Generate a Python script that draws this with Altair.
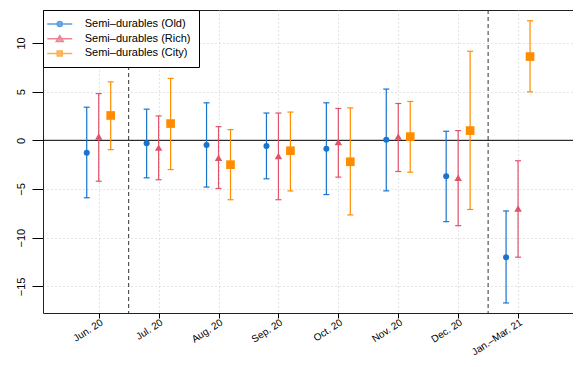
import json
import altair as alt
import pandas as pd

months = ["Jun. 20", "Jul. 20", "Aug. 20", "Sep. 20", "Oct. 20", "Nov. 20", "Dec. 20", "Jan.–Mar. 21"]
series_names = ["Semi–durables (Old)", "Semi–durables (Rich)", "Semi–durables (City)"]
series_colors = ["#1874CD", "#DF536B", "#FF8C00"]
series_offsets = [-0.2, 0.0, 0.2]

old_est = [-1.27, -0.30, -0.48, -0.58, -0.86, 0.07, -3.68, -12.0]
old_lo = [-5.9, -3.85, -4.8, -3.95, -5.57, -5.19, -8.35, -16.7]
old_hi = [3.4, 3.2, 3.85, 2.8, 3.85, 5.26, 0.93, -7.25]

rich_est = [0.40, -0.75, -1.8, -1.6, -0.17, 0.38, -3.85, -7.0]
rich_lo = [-4.2, -4.05, -4.95, -6.1, -3.78, -3.2, -8.76, -12.0]
rich_hi = [4.8, 2.5, 1.4, 2.8, 3.27, 3.78, 1.0, -2.1]

city_est = [2.55, 1.72, -2.5, -1.07, -2.2, 0.38, 1.0, 8.6]
city_lo = [-0.96, -3.0, -6.1, -5.2, -7.66, -3.27, -7.1, 4.98]
city_hi = [6.0, 6.35, 1.1, 2.9, 3.33, 3.99, 9.14, 12.27]

separators = [0.5, 6.5]
y_ticks = [-15, -10, -5, 0, 5, 10]

ests = [old_est, rich_est, city_est]
los = [old_lo, rich_lo, city_lo]
his = [old_hi, rich_hi, city_hi]

rows = []
for s, name in enumerate(series_names):
    for i in range(len(months)):
        rows.append(dict(i=i, off=series_offsets[s], series=name,
                         est=ests[s][i], lo=los[s][i], hi=his[s][i]))
df = pd.DataFrame(rows)

FONT = "Liberation Sans"
xscale = alt.Scale(domain=[-0.93, 7.917], nice=False, zero=False)
yscale = alt.Scale(domain=[-17.73, 13.38], nice=False, zero=False)
color_scale = alt.Scale(domain=series_names, range=series_colors)

xaxis = alt.Axis(values=list(range(len(months))),
                 labelExpr=json.dumps(months) + "[round(datum.value)]",
                 labelAngle=-33, labelAlign="right", labelBaseline="top",
                 labelPadding=-1, labelFontSize=10, tickSize=5, domain=False, grid=True,
                 gridDash=[1, 3], gridColor="#c8c8c8", title=None)
yaxis = alt.Axis(values=y_ticks, labelAngle=-90, labelAlign="center",
                 labelBaseline="alphabetic", labelPadding=8, tickSize=11,
                 domain=False, grid=True, gridDash=[1, 3], gridColor="#c8c8c8",
                 title=None)

base = alt.Chart(df).transform_calculate(
    xpos="datum.i + datum.off",
    xl="datum.i + datum.off - 0.05",
    xr="datum.i + datum.off + 0.05",
)

X = alt.X("xpos:Q", scale=xscale, axis=xaxis)
col = alt.Color("series:N", scale=color_scale, legend=None)

bars = base.mark_rule(strokeWidth=1.2).encode(
    x=X, y=alt.Y("lo:Q", scale=yscale, axis=yaxis), y2="hi:Q", color=col)
cap_lo = base.mark_rule(strokeWidth=1.2).encode(
    x=alt.X("xl:Q", scale=xscale, axis=xaxis), x2="xr:Q",
    y=alt.Y("lo:Q", scale=yscale, axis=yaxis), color=col)
cap_hi = base.mark_rule(strokeWidth=1.2).encode(
    x=alt.X("xl:Q", scale=xscale, axis=xaxis), x2="xr:Q",
    y=alt.Y("hi:Q", scale=yscale, axis=yaxis), color=col)
points = base.mark_point(filled=True, opacity=1).encode(
    x=X, y=alt.Y("est:Q", scale=yscale, axis=yaxis), color=col,
    shape=alt.Shape("series:N", scale=alt.Scale(domain=series_names,
                    range=["circle", "triangle-up", "square"]), legend=None),
    size=alt.Size("series:N", scale=alt.Scale(domain=series_names,
                  range=[36, 75, 49]), legend=None),
)

zero = alt.Chart(pd.DataFrame({"v": [0]})).mark_rule(color="black", strokeWidth=1).encode(
    y=alt.Y("v:Q", scale=yscale, axis=yaxis))
seps = alt.Chart(pd.DataFrame({"s": separators})).mark_rule(
    color="#333333", strokeDash=[4, 3], strokeWidth=1).encode(
    x=alt.X("s:Q", scale=xscale, axis=xaxis))

legend_paths = [
    "M-2.5,0L2.5,0M-0.5,0A0.5,0.5,0,1,0,0.5,0A0.5,0.5,0,1,0,-0.5,0Z",
    "M-2.5,0L2.5,0M0,-0.6L0.7,0.55L-0.7,0.55Z",
    "M-2.5,0L2.5,0M-0.5,-0.5L0.5,-0.5L0.5,0.5L-0.5,0.5Z",
]
pad = "\u2007" * 3
leg = alt.Legend(title=None, orient="none", legendX=0, legendY=0,
                 direction="vertical", padding=8, rowPadding=2.7,
                 symbolOffset=2.75, labelOffset=19, strokeColor="black",
                 fillColor="white", labelFont=FONT, labelFontSize=11,
                 labelColor="black", symbolSize=100, symbolStrokeWidth=1.5,
                 labelLimit=0, labelExpr="datum.label + '" + pad + "'")
legend_layer = base.mark_point(size=100, clip=True, strokeWidth=1.5).encode(
    x=X, y=alt.datum(1000),
    shape=alt.Shape("series:N", scale=alt.Scale(domain=series_names, range=legend_paths), legend=leg),
    fill=alt.Fill("series:N", scale=color_scale, legend=leg),
    stroke=alt.Stroke("series:N", scale=color_scale, legend=leg),
)

chart = alt.layer(seps, zero, bars, cap_lo, cap_hi, points, legend_layer).resolve_scale(
    shape="independent", color="independent", fill="independent", stroke="independent"
).properties(
    width=530, height=303,
    autosize=alt.AutoSizeParams(type="none"),
    padding={"left": 35, "top": 2, "right": 0, "bottom": 46},
).configure_view(stroke="#222222", strokeWidth=1).configure_axis(
    labelFont=FONT, labelFontSize=11, labelColor="black", tickColor="black"
)

chart.save("out.html", embed_options={"renderer": "svg", "actions": False})
